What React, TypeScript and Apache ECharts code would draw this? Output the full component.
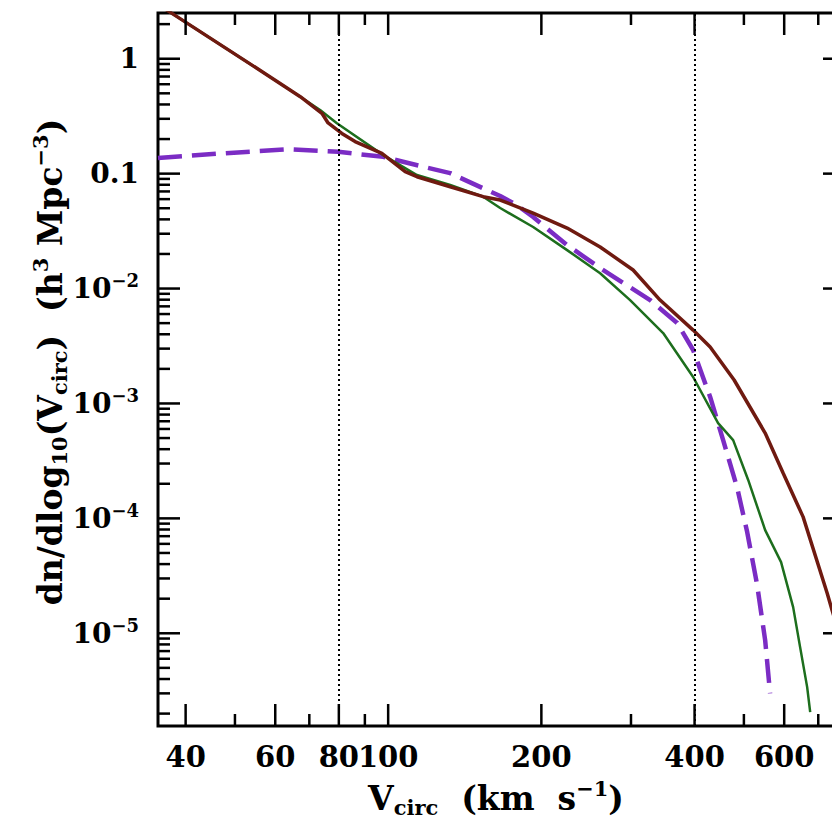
import React, { useEffect, useRef } from "react";
import * as echarts from "echarts";

const FONT = "'DejaVu Serif', 'Liberation Serif', serif";

// Axis ranges (log scales)
const xRange = [35.3, 790];
const yRange = [1.56e-6, 2.5];

// Tick marks and labels
const xMajorTicks = [40, 60, 80, 100, 200, 400, 600];
const xTickLabels = ["40", "60", "80", "100", "200", "400", "600"];
const xMinorTicks = [50, 70, 90, 300, 500, 700];

const yMajorTicks = [1, 0.1, 0.01, 0.001, 0.0001, 0.00001];
const yTickLabels = ["{m|1}", "{m|0.1}", "{m|10}{e|−2}", "{m|10}{e|−3}", "{m|10}{e|−4}", "{m|10}{e|−5}"];
const yMinorMultipliers = [2, 3, 4, 5, 6, 7, 8, 9];
const yMinorDecades = [1e-6, 1e-5, 1e-4, 1e-3, 1e-2, 1e-1, 1];

// Vertical dotted reference lines
const referenceVelocities = [80, 400];

// Dark red solid curve
const redVelocity = [35.3, 37.6, 54.0, 67.2, 74.1, 76.2, 81.1, 86.1, 97.2, 108.0, 113.9, 132.4, 153.7, 166.0, 192.7, 224.7, 260.9, 302.9, 342.2, 397.4, 429.2, 478.4, 550.5, 597.0, 653.6, 728.6, 745.2, 790.4];
const redDensity = [2.97, 2.48, 0.88, 0.467, 0.335, 0.276, 0.224, 0.19, 0.15, 0.104, 0.094, 0.0769, 0.063, 0.0589, 0.0454, 0.0336, 0.023, 0.0145, 0.00794, 0.00435, 0.0031, 0.0016, 0.000553, 0.000248, 0.000103, 0.0000224, 0.0000159, 0.0000065];

// Green solid curve
const greenVelocity = [35.3, 37.6, 54.0, 67.2, 73.5, 79.3, 97.8, 113.9, 132.4, 153.7, 166.0, 192.7, 224.7, 260.9, 298.8, 347.0, 397.4, 444.9, 476.3, 509.8, 550.5, 591.6, 624.8, 644.8, 665.7, 674.9];
const greenDensity = [2.97, 2.48, 0.88, 0.467, 0.358, 0.274, 0.145, 0.0972, 0.0796, 0.063, 0.0502, 0.0343, 0.0216, 0.0136, 0.00794, 0.0041, 0.0017, 0.000675, 0.00048, 0.000216, 0.0000791, 0.0000416, 0.0000169, 0.00000758, 0.0000034, 0.00000206];

// Purple dashed curve
const purpleVelocity = [35.3, 47.1, 63.6, 79.8, 97.8, 117.2, 132.4, 153.7, 166.0, 178.9, 192.7, 224.7, 260.9, 289.6, 327.1, 369.7, 397.4, 429.2, 455.2, 485.1, 507.5, 530.9, 550.5, 562.9];
const purpleDensity = [0.137, 0.15, 0.163, 0.155, 0.14, 0.115, 0.101, 0.0745, 0.0638, 0.0533, 0.0419, 0.0239, 0.0151, 0.0112, 0.00794, 0.00502, 0.00292, 0.00114, 0.00048, 0.000184, 0.000076, 0.0000263, 0.0000087, 0.000003];

const AXIS_COLOR = "#000";
const TICK_W = 2.5;
const MAJOR_LEN = 22;
const MINOR_LEN = 12;

const labelRich = {
  m: { fontFamily: FONT, fontWeight: "bold", fontSize: 28, lineHeight: 34, fill: "#000", color: "#000" },
  e: { fontFamily: FONT, fontWeight: "bold", fontSize: 18, lineHeight: 18, verticalAlign: "top", fill: "#000", color: "#000" },
};

function xTickRenderer(isMajor: boolean) {
  return (params: any, api: any) => {
    const cs = params.coordSys;
    const px = api.coord([api.value(0), 1])[0];
    const len = isMajor ? MAJOR_LEN : MINOR_LEN;
    const bottom = cs.y + cs.height;
    const children: any[] = [
      { type: "line", shape: { x1: px, y1: bottom, x2: px, y2: bottom - len }, style: { stroke: AXIS_COLOR, lineWidth: TICK_W } },
      { type: "line", shape: { x1: px, y1: cs.y, x2: px, y2: cs.y + len }, style: { stroke: AXIS_COLOR, lineWidth: TICK_W } },
    ];
    if (isMajor) {
      children.push({
        type: "text",
        x: px,
        y: bottom + 31,
        style: {
          text: xTickLabels[api.value(2)],
          fontFamily: FONT,
          fontWeight: "bold",
          fontSize: 29,
          fill: "#000",
          textAlign: "center",
          textVerticalAlign: "middle",
          align: "center",
          verticalAlign: "middle",
        },
      });
    }
    return { type: "group", children };
  };
}

function yTickRenderer(isMajor: boolean) {
  return (params: any, api: any) => {
    const cs = params.coordSys;
    const py = api.coord([100, api.value(1)])[1];
    const len = isMajor ? MAJOR_LEN : MINOR_LEN;
    const right = cs.x + cs.width;
    const children: any[] = [
      { type: "line", shape: { x1: cs.x, y1: py, x2: cs.x + len, y2: py }, style: { stroke: AXIS_COLOR, lineWidth: TICK_W } },
      { type: "line", shape: { x1: right, y1: py, x2: right - len, y2: py }, style: { stroke: AXIS_COLOR, lineWidth: TICK_W } },
    ];
    if (isMajor) {
      children.push({
        type: "text",
        x: cs.x - 19,
        y: py,
        style: {
          text: yTickLabels[api.value(2)],
          rich: labelRich,
          fill: "#000",
          textAlign: "right",
          textVerticalAlign: "middle",
          align: "right",
          verticalAlign: "middle",
        },
      });
    }
    return { type: "group", children };
  };
}

const titleRich = {
  t: { fontFamily: FONT, fontWeight: "bold", fontSize: 33, lineHeight: 40, fill: "#000", color: "#000" },
  s: { fontFamily: FONT, fontWeight: "bold", fontSize: 21, lineHeight: 12, verticalAlign: "bottom", fill: "#000", color: "#000" },
  e: { fontFamily: FONT, fontWeight: "bold", fontSize: 21, lineHeight: 20, verticalAlign: "top", fill: "#000", color: "#000" },
};

export default function App() {
  const ref = useRef<HTMLDivElement>(null);

  useEffect(() => {
    if (!ref.current) return;
    const chart = echarts.init(ref.current, undefined, { renderer: "svg" });

    const yMinorTicks: number[] = [];
    yMinorDecades.forEach((d) =>
      yMinorMultipliers.forEach((m) => {
        const v = d * m;
        if (v >= yRange[0] && v <= yRange[1]) yMinorTicks.push(v);
      })
    );

    const option: any = {
      animation: false,
      backgroundColor: "#fff",
      grid: {
        left: 158,
        top: 13,
        right: 15,
        bottom: 102,
        show: true,
        borderColor: AXIS_COLOR,
        borderWidth: 3,
        backgroundColor: "transparent",
      },
      xAxis: {
        type: "log",
        logBase: 10,
        min: xRange[0],
        max: xRange[1],
        axisLine: { show: false },
        axisTick: { show: false },
        axisLabel: { show: false },
        splitLine: { show: false },
      },
      yAxis: {
        type: "log",
        logBase: 10,
        min: yRange[0],
        max: yRange[1],
        axisLine: { show: false },
        axisTick: { show: false },
        axisLabel: { show: false },
        splitLine: { show: false },
      },
      graphic: [
        {
          type: "text",
          x: 496,
          y: 798,
          style: {
            text: "{t|V}{s|circ}{t|  (km  s}{e|−1}{t|)}",
            rich: titleRich,
            textAlign: "center",
            textVerticalAlign: "middle",
            align: "center",
            verticalAlign: "middle",
          },
        },
        {
          type: "text",
          x: 50,
          y: 362,
          rotation: Math.PI / 2,
          style: {
            text: "{t|dn/dlog}{s|10}{t|(V}{s|circ}{t|)  (h}{e|3}{t| Mpc}{e|−3}{t|)}",
            rich: titleRich,
            textAlign: "center",
            textVerticalAlign: "middle",
            align: "center",
            verticalAlign: "middle",
          },
        },
      ],
      series: [
        {
          type: "line",
          name: "purple dashed",
          data: purpleVelocity.map((v, i) => [v, purpleDensity[i]]),
          showSymbol: false,
          symbol: "none",
          clip: true,
          z: 2,
          lineStyle: { color: "#7b2cc4", width: 4.5, type: [24, 10] },
          markLine: {
            silent: true,
            symbol: ["none", "none"],
            label: { show: false },
            lineStyle: { color: "#000", width: 2, type: [2, 3] },
            data: referenceVelocities.map((v) => ({ xAxis: v })),
          },
        },
        {
          type: "line",
          name: "green",
          data: greenVelocity.map((v, i) => [v, greenDensity[i]]),
          showSymbol: false,
          symbol: "none",
          clip: true,
          z: 3,
          lineStyle: { color: "#1d6e1d", width: 2.5 },
        },
        {
          type: "line",
          name: "red",
          data: redVelocity.map((v, i) => [v, redDensity[i]]),
          showSymbol: false,
          symbol: "none",
          clip: true,
          z: 4,
          lineStyle: { color: "#6f1a10", width: 3.5 },
        },
        {
          type: "custom",
          name: "x major ticks",
          coordinateSystem: "cartesian2d",
          silent: true,
          z: 6,
          data: xMajorTicks.map((v, i) => [v, 1, i]),
          encode: { x: 0, y: 1 },
          renderItem: xTickRenderer(true),
        },
        {
          type: "custom",
          name: "x minor ticks",
          coordinateSystem: "cartesian2d",
          silent: true,
          z: 6,
          data: xMinorTicks.map((v, i) => [v, 1, i]),
          encode: { x: 0, y: 1 },
          renderItem: xTickRenderer(false),
        },
        {
          type: "custom",
          name: "y major ticks",
          coordinateSystem: "cartesian2d",
          silent: true,
          z: 6,
          data: yMajorTicks.map((v, i) => [100, v, i]),
          encode: { x: 0, y: 1 },
          renderItem: yTickRenderer(true),
        },
        {
          type: "custom",
          name: "y minor ticks",
          coordinateSystem: "cartesian2d",
          silent: true,
          z: 6,
          data: yMinorTicks.map((v, i) => [100, v, i]),
          encode: { x: 0, y: 1 },
          renderItem: yTickRenderer(false),
        },
      ],
    };

    chart.setOption(option);
    return () => chart.dispose();
  }, []);

  return (
    <div style={{ position: "absolute", left: 0, top: 0, width: 832, height: 828, overflow: "hidden", background: "#fff" }}>
      <div ref={ref} style={{ width: 860, height: 828 }} />
    </div>
  );
}
